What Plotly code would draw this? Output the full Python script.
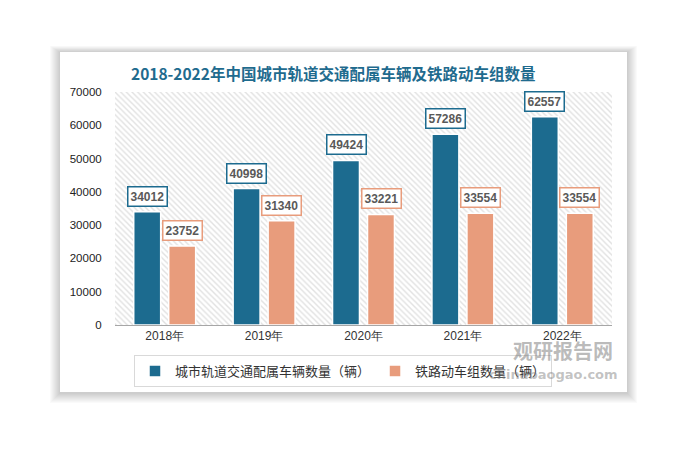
import plotly.graph_objects as go

years = ["2018年", "2019年", "2020年", "2021年", "2022年"]
urban_rail = [34012, 40998, 49424, 57286, 62557]
emu = [23752, 31340, 33221, 33554, 33554]
series_names = ["城市轨道交通配属车辆数量（辆）", "铁路动车组数量（辆）"]
title_text = "2018-2022年中国城市轨道交通配属车辆及铁路动车组数量"

BLUE = "#1c6b8f"
ORANGE = "#e89c7c"
W, H = 687, 452
OFF = 8  # page offset of the figure
LS, TS = 115, 92          # plot area left/top on screen
PW, PH = 497, 233
L, T = LS - OFF, TS - OFF
R, B = W - L - PW, H - T - PH


def fx(px):
    return (px - LS) / PW


def fy(py):
    return (TS + PH - py) / PH


fig = go.Figure()

# hatched plot background (decorative)
fig.add_trace(go.Bar(
    x=[0], y=[70000], width=[1], xaxis="x", yaxis="y",
    marker=dict(color="white", line=dict(width=0),
                pattern=dict(shape="\\", fgcolor="#c4c4c4", bgcolor="white",
                             size=4, solidity=0.35)),
    showlegend=False, hoverinfo="skip"))

fig.add_trace(go.Bar(
    x=years, y=urban_rail, name=series_names[0], xaxis="x2", yaxis="y",
    marker=dict(color=BLUE, line=dict(color="white", width=1.5))))
fig.add_trace(go.Bar(
    x=years, y=emu, name=series_names[1], xaxis="x2", yaxis="y",
    marker=dict(color=ORANGE, line=dict(color="white", width=1.5))))

annotations = []
for yr, v1, v2 in zip(years, urban_rail, emu):
    for v, c, sh in ((v1, BLUE, -17.5), (v2, ORANGE, 17.5)):
        annotations.append(dict(
            x=yr, y=v, xref="x2", yref="y", text=f"<b>{v}</b>",
            showarrow=False, xshift=sh, yshift=5, yanchor="bottom",
            font=dict(family="Liberation Sans", size=12, color="#595959"),
            bgcolor="white", bordercolor=c, borderwidth=1.5, borderpad=2))

annotations.append(dict(
    x=fx(333), y=fy(73), xref="paper", yref="paper", text=f"<b>{title_text}</b>",
    showarrow=False, xanchor="center", yanchor="middle",
    font=dict(family="Noto Sans CJK SC", size=15.5, color="#1f6b8e")))

# watermark
annotations.append(dict(
    x=fx(563), y=fy(350), xref="paper", yref="paper", text="<b>观研报告网</b>",
    showarrow=False, xanchor="center", yanchor="middle",
    font=dict(family="Noto Sans CJK SC", size=20, color="rgba(120,120,120,0.5)")))
annotations.append(dict(
    x=fx(553), y=fy(374), xref="paper", yref="paper", text="<b>chinabaogao.com</b>",
    showarrow=False, xanchor="center", yanchor="middle",
    font=dict(family="DejaVu Sans", size=13, color="rgba(120,120,120,0.45)")))

shapes = []
# card shadow
for k in range(10, 0, -1):
    shapes.append(dict(type="rect", xref="paper", yref="paper", layer="below",
                       x0=fx(60 - k), x1=fx(627 + k), y0=fy(52 - k * 0.6), y1=fy(393 + k),
                       fillcolor="rgba(0,0,0,0.018)", line=dict(width=0)))
shapes.append(dict(type="rect", xref="paper", yref="paper", layer="below",
                   x0=fx(60), x1=fx(627), y0=fy(52), y1=fy(392),
                   fillcolor="white", line=dict(width=0)))

fig.update_layout(
    width=W, height=H,
    margin=dict(l=L, r=R, t=T, b=B, autoexpand=False),
    paper_bgcolor="white", plot_bgcolor="rgba(0,0,0,0)",
    barmode="group", bargap=0.296, bargroupgap=0.23,
    xaxis=dict(range=[-0.5, 0.5], visible=False, fixedrange=True),
    xaxis2=dict(overlaying="x", side="bottom", showgrid=False, showline=True,
                linecolor="#a6a6a6", linewidth=1, ticks="", automargin=False,
                tickfont=dict(family="Liberation Sans", size=12, color="#333333")),
    yaxis=dict(range=[0, 70000], dtick=10000, tickformat="d", showgrid=False,
               zeroline=False, automargin=False,
               showline=False, ticks="outside", ticklen=10, tickcolor="rgba(0,0,0,0)",
               tickfont=dict(family="Liberation Sans", size=11.5, color="#222222")),
    legend=dict(orientation="h", x=fx(343), xanchor="center", y=fy(371), yanchor="middle",
                bordercolor="#d9d9d9", borderwidth=1, bgcolor="rgba(255,255,255,0)",
                font=dict(family="Noto Sans CJK SC", size=13, color="#333333"),
                itemwidth=30, tracegroupgap=0),
    annotations=annotations,
    shapes=shapes,
    showlegend=True,
)

fig.write_html("out.html")
